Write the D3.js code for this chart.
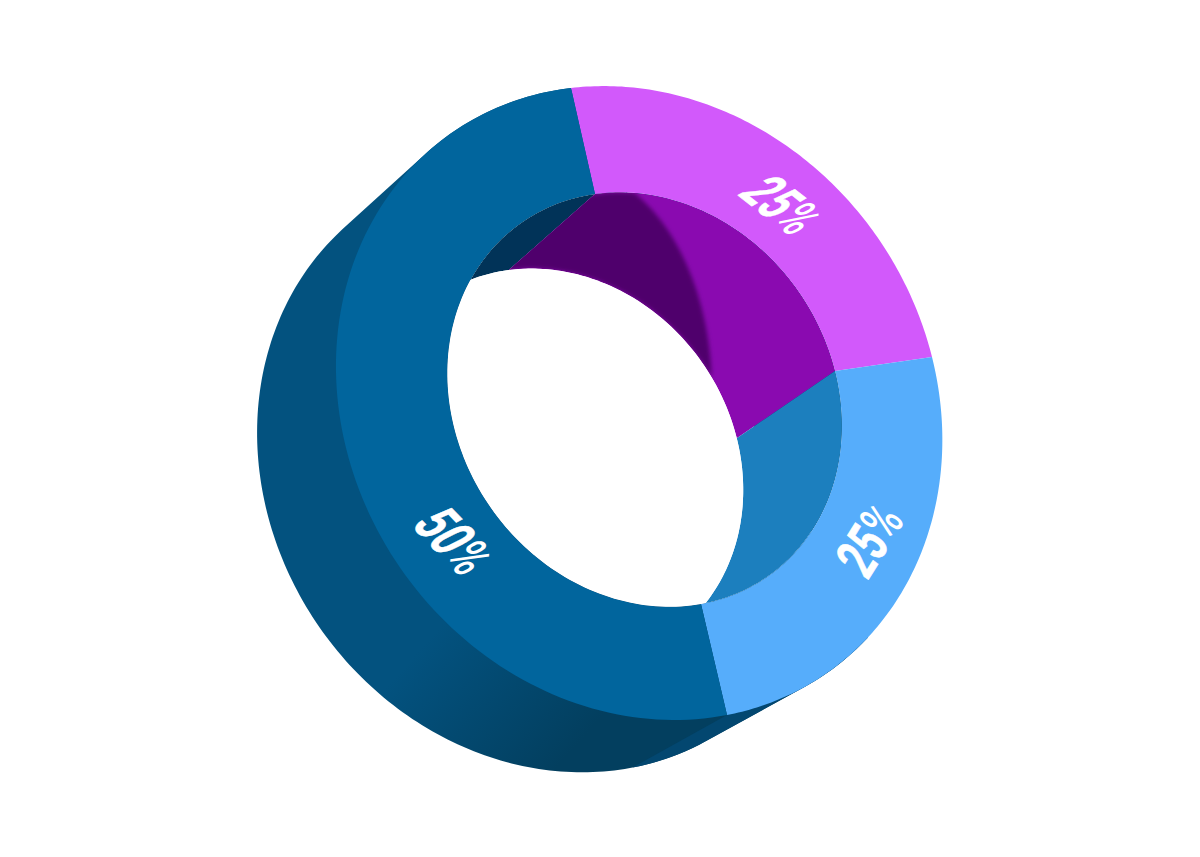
<!DOCTYPE html>
<html><head><meta charset="utf-8">
<style>html,body{margin:0;background:#fff}svg{display:block}</style>
<script src="https://cdn.jsdelivr.net/npm/d3@7"></script></head>
<body><svg id="c" width="1200" height="857"></svg>
<script>
const categories = ["A","B","C"];
const shares = [25,25,50];
const labelNumbers = ["25","25","50"];
const faceColors = ["#d259fb","#56adfb","#01659d"];
const wallColors = ["#8a0ab0","#1c7fbe","#013358"];
const INNER_BACK = 0.652, DEPTH_SCALE = 0.96, DEPTH_SHIFT = [-91,65], PIVOT = [640,403];
// where the top, right, bottom and left of the ring's rims land on the page
const rimAnchors = [[571,88],[932,357],[727,715],[346,448]];
const innerAnchors = [[595,194],[835,371],[701,604],[455,431]];
const unitAnchors = [[0,-1],[1,0],[0,1],[-1,0]];

function solve(A,b){
  const n=b.length, M=A.map((r,i)=>[...r,b[i]]);
  for(let i=0;i<n;i++){
    let p=i; for(let r=i+1;r<n;r++) if(Math.abs(M[r][i])>Math.abs(M[p][i])) p=r;
    [M[i],M[p]]=[M[p],M[i]];
    for(let r=0;r<n;r++) if(r!==i){const f=M[r][i]/M[i][i]; for(let c=i;c<=n;c++) M[r][c]-=f*M[i][c];}
  }
  return M.map((r,i)=>r[n]/r[i]);
}
function homography(src,dst){
  const A=[],b=[];
  src.forEach(([x,y],i)=>{const [X,Y]=dst[i];
    A.push([x,y,1,0,0,0,-x*X,-y*X]); b.push(X);
    A.push([0,0,0,x,y,1,-x*Y,-y*Y]); b.push(Y);});
  const h=solve(A,b);
  return (x,y)=>{const w=h[6]*x+h[7]*y+1; return [(h[0]*x+h[1]*y+h[2])/w,(h[3]*x+h[4]*y+h[5])/w];};
}
const front = homography(unitAnchors,rimAnchors);
const frontInner = homography(unitAnchors,innerAnchors);
const back = homography(unitAnchors,rimAnchors.map(p=>[
  PIVOT[0]+DEPTH_SCALE*(p[0]-PIVOT[0])+DEPTH_SHIFT[0],
  PIVOT[1]+DEPTH_SCALE*(p[1]-PIVOT[1])+DEPTH_SHIFT[1]]));
const pt=(H,r,a)=>H(r*Math.sin(a),-r*Math.cos(a));
const arcPts=(H,r,a0,a1,n=120)=>d3.range(n+1).map(i=>pt(H,r,a0+(a1-a0)*i/n));
const line=d3.line();
const closed=p=>line(p)+"Z";
const TAU=2*Math.PI, SIL=0.82*Math.PI;

const svg=d3.select("#c");
const defs=svg.append("defs");
const pie=d3.pie().sort(null).value(d=>d)(shares);

const g=defs.append("linearGradient").attr("id","wallGrad").attr("gradientUnits","userSpaceOnUse")
  .attr("x1",455).attr("y1",610).attr("x2",590).attr("y2",730);
g.append("stop").attr("offset",0).attr("stop-color","#03527f");
g.append("stop").attr("offset",1).attr("stop-color","#033f5f");
defs.append("filter").attr("id","soft").attr("x","-20%").attr("y","-20%").attr("width","140%").attr("height","140%")
  .append("feGaussianBlur").attr("stdDeviation",2.2);
const holeD=closed(arcPts(frontInner,1,0,TAU,240));
defs.append("clipPath").attr("id","hole").append("path").attr("d",holeD);

// outer wall: only the part seen behind the rim, lower left
const wallPts=[...arcPts(front,1,SIL,TAU,200),...arcPts(back,1,SIL,TAU,200)];
svg.append("path").attr("fill-rule","evenodd").attr("d",closed(d3.polygonHull(wallPts))+holeD).attr("fill","url(#wallGrad)");
const bw=pie[1];
svg.append("path").attr("d",closed(d3.polygonHull([...arcPts(front,1,SIL,bw.endAngle,40),...arcPts(back,1,SIL,bw.endAngle,40)]))).attr("fill","#034770");

// front face
svg.selectAll("path.face").data(pie).join("path").attr("class","face")
  .attr("fill",(d,i)=>faceColors[i])
  .attr("d",d=>closed([...arcPts(front,1,d.startAngle,d.endAngle),...arcPts(frontInner,1,d.endAngle,d.startAngle)]));

// inner walls
const holeG=svg.append("g").attr("clip-path","url(#hole)");
const wallD=d=>closed([...arcPts(frontInner,1,d.startAngle,d.endAngle),...arcPts(back,INNER_BACK,d.endAngle,d.startAngle)]);
[2,0,1].forEach(i=>{holeG.append("path").attr("fill",wallColors[i]).attr("d",wallD(pie[i]));});
// shaded part of the purple wall
defs.append("clipPath").attr("id","pw").append("path").attr("d",wallD(pie[0]));
const foldFront=0.2, foldBack=1.24;
const fold=d3.range(31).map(i=>{const s=i/30,a=foldFront+(foldBack-foldFront)*s,
  f=pt(frontInner,1,a),b=pt(back,INNER_BACK,a); return [f[0]+(b[0]-f[0])*s,f[1]+(b[1]-f[1])*s];});
holeG.append("g").attr("clip-path","url(#pw)").append("path")
  .attr("filter","url(#soft)").attr("fill","#4f066c")
  .attr("d",closed([...fold,...arcPts(back,INNER_BACK,foldBack,-0.3,40),...arcPts(frontInner,1,-0.3,foldFront,20)]));
// see-through centre
holeG.append("path").attr("fill","#fff").attr("d",closed(arcPts(back,INNER_BACK,0,TAU,240)));

// labels
const labelPos=[[783,205,38,-24,.66,56],[869,539,-58,-3,.66,58],[455,541,46,-17,.68,58]];
const texts=svg.selectAll("text.l").data(labelNumbers).join("text").attr("class","l")
  .attr("text-anchor","middle").attr("fill","#fff").attr("font-family","Roboto").attr("font-weight",700)
  .attr("font-size",(d,i)=>labelPos[i][5]).attr("stroke","#fff").attr("stroke-width",.6)
  .attr("transform",(d,i)=>{const p=labelPos[i];return `translate(${p[0]},${p[1]}) rotate(${p[2]}) skewX(${p[3]}) scale(${p[4]},1)`;})
  .attr("dy","0.36em").text(d=>d);
texts.append("tspan").attr("font-size","0.98em").attr("font-weight",500).attr("stroke","none").text("%");
</script></body></html>
